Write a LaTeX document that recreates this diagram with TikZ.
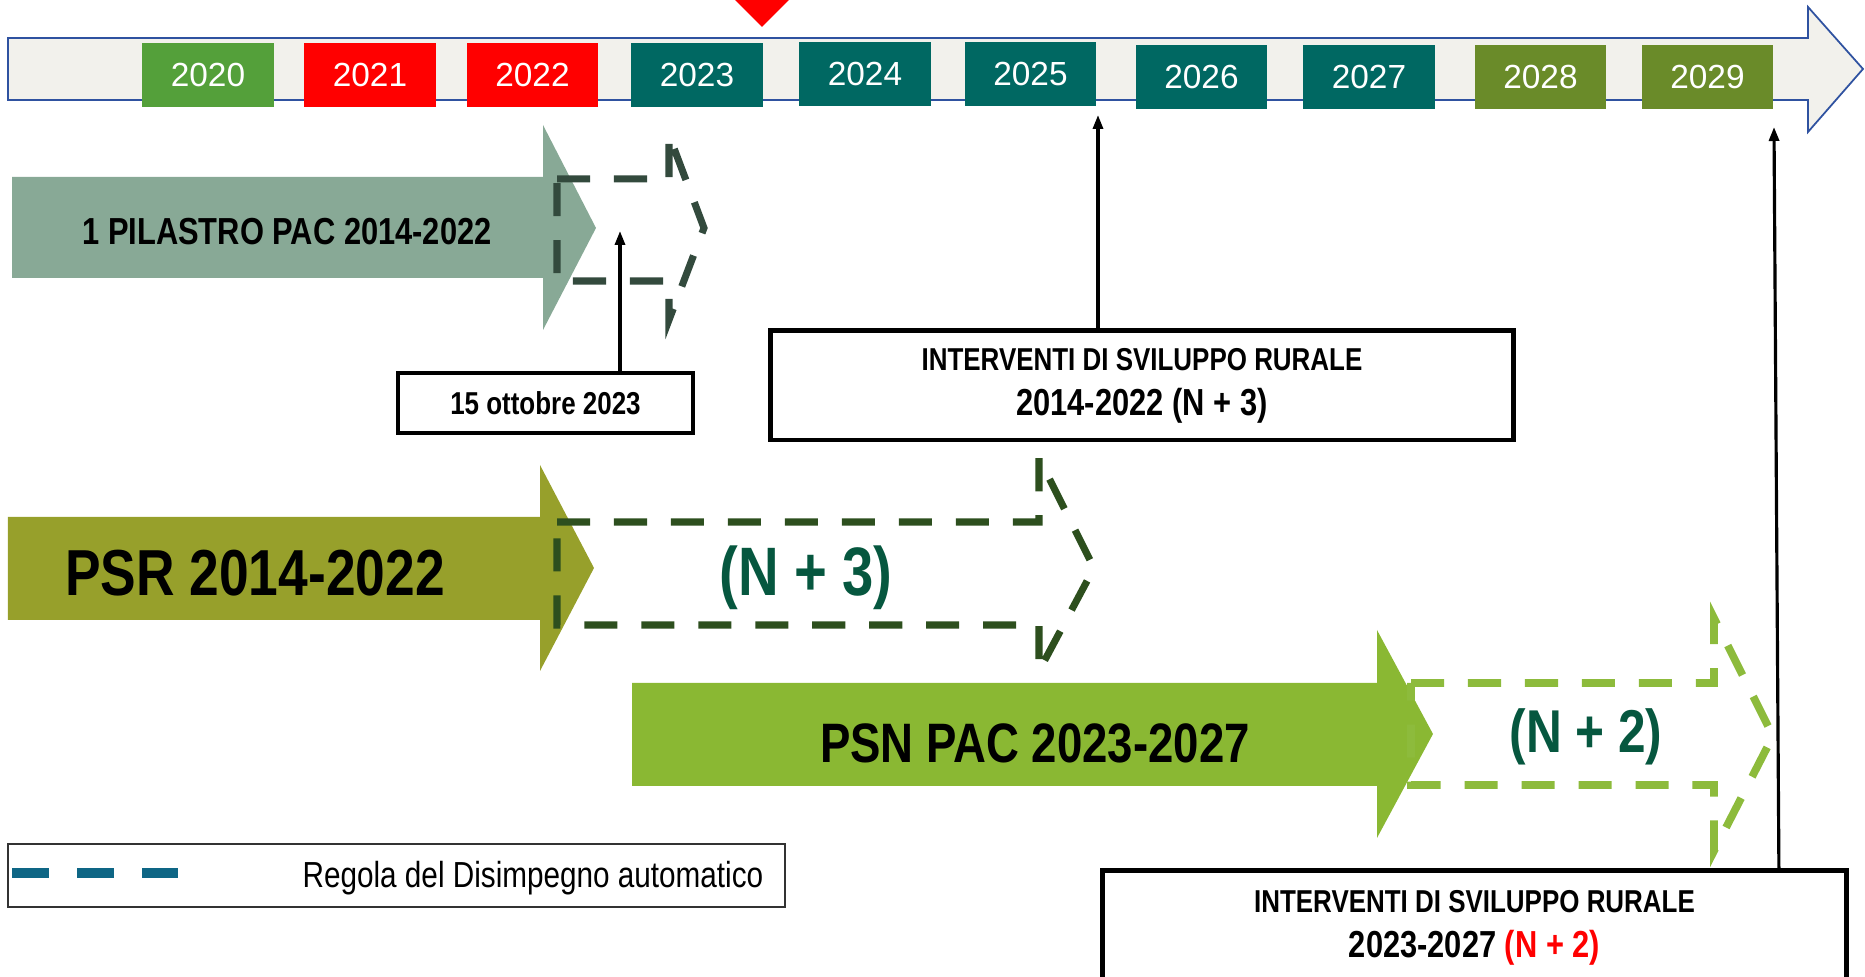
\documentclass[tikz,border=0pt]{standalone}
\usepackage{fontspec}
\setmainfont{Liberation Sans}[FakeStretch=0.82]
\newfontfamily\yearfont{Liberation Sans}
\usetikzlibrary{arrows.meta, positioning, calc}

\definecolor{barfill}{RGB}{242, 241, 236}
\definecolor{barline}{RGB}{47, 82, 160}
\definecolor{yrgreen}{RGB}{84, 160, 58}
\definecolor{yrred}{RGB}{255, 0, 0}
\definecolor{yrteal}{RGB}{0, 104, 98}
\definecolor{yrolive}{RGB}{106, 139, 41}
\definecolor{pacgray}{RGB}{136, 169, 150}
\definecolor{psrolive}{RGB}{151, 160, 43}
\definecolor{psngreen}{RGB}{138, 184, 51}
\definecolor{dashslate}{RGB}{51, 74, 61}
\definecolor{dashdark}{RGB}{45, 79, 30}
\definecolor{dashlight}{RGB}{141, 187, 60}
\definecolor{ntext}{RGB}{6, 87, 63}
\definecolor{legblue}{RGB}{14, 102, 133}

\newcommand{\biggerline}{\fontsize{10.7}{12.8}\selectfont}

\tikzset{
  yearbox/.style={fill=#1, text=white, font=\yearfont\fontsize{9.5}{11}\selectfont,
    minimum width=1.31cm, minimum height=0.64cm, inner sep=0pt},
  notebox/.style={draw, fill=white, line width=1.4pt, align=center, inner sep=0pt,
    font=\bfseries\fontsize{9}{12.8}\selectfont},
  conn/.style={line width=0.9pt, -{Triangle[length=0.14cm, width=0.1cm]}},
  disimp/.style={line width=2pt, dash pattern=on 9.4pt off 6.8pt},
}

\begin{document}
\begin{tikzpicture}[x=0.01cm, y=-0.01cm]
  \useasboundingbox (0,0) rectangle (1865,977);

  % Timeline bar
  \draw[barline, fill=barfill, line width=0.5pt] (8,38) -- (1808,38) -- (1808,7) -- (1863,69)
    -- (1808,132) -- (1808,100) -- (8,100) -- cycle;
  \fill[red] (735,0) -- (789,0) -- (762,27) -- cycle;

  % Years
  \node[yearbox=yrgreen] (y2020) at (208,75) {2020};
  \node[yearbox=yrred] (y2021) at (370,75) {2021};
  \node[yearbox=yrred] (y2022) at (532.5,75) {2022};
  \node[yearbox=yrteal] (y2023) at (697,75) {2023};
  \node[yearbox=yrteal] (y2024) at (865,74) {2024};
  \node[yearbox=yrteal] (y2025) at (1030.5,74) {2025};
  \node[yearbox=yrteal] (y2026) at (1201.5,77) {2026};
  \node[yearbox=yrteal] (y2027) at (1369,77) {2027};
  \node[yearbox=yrolive] (y2028) at (1540.5,77) {2028};
  \node[yearbox=yrolive] (y2029) at (1707.5,77) {2029};

  % 1 pilastro
  \fill[pacgray] (12,177) -- (543,177) -- (543,125) -- (596,228) -- (543,330) -- (543,278) -- (12,278) -- cycle;
  \node[font=\bfseries\fontsize{10.7}{12}\selectfont] (pilastro) at (287,232) {1 PILASTRO PAC 2014-2022};
  \draw[disimp, dashslate] (557,179) -- (669,179) -- (669,135) -- (704,228) -- (669,320) -- (669,281) -- (557,281) -- cycle;

  % PSR 2014-2022
  \fill[psrolive] (8,517) -- (540,517) -- (540,465) -- (594,568) -- (540,671) -- (540,620) -- (8,620) -- cycle;
  \node[font=\bfseries\fontsize{18.5}{20}\selectfont] (psr) at (255,573) {PSR 2014-2022};
  \draw[disimp, dashdark] (557,522) -- (1039,522) -- (1039,458) -- (1094,568) -- (1039,671) -- (1039,625) -- (557,625) -- cycle;
  \node[font=\bfseries\fontsize{19.5}{21}\selectfont, text=ntext] (nthree) at (806,578) {(N + 3)};

  % PSN PAC 2023-2027
  \fill[psngreen] (632,683) -- (1377,683) -- (1377,630) -- (1433,734) -- (1377,838) -- (1377,786) -- (632,786) -- cycle;
  \node[font=\bfseries\fontsize{15.8}{18}\selectfont] (psn) at (1035,743) {PSN PAC 2023-2027};
  \draw[disimp, dashlight, line width=2.2pt] (1411,683) -- (1714,683) -- (1714,618) -- (1773,736) -- (1714,851) -- (1714,785) -- (1411,785) -- cycle;
  \node[font=\bfseries\fontsize{17.2}{19}\selectfont, text=ntext] (ntwo) at (1586,737) {(N + 2)};

  % Boxes and pointers
  \node[notebox, line width=1.1pt, minimum width=2.95cm, minimum height=0.6cm] (ottobre) at (545.5,403) {15 ottobre 2023};
  \coordinate (ottend) at (620,231);
  \draw[conn] (ottobre.north -| ottend) -- (ottend);

  \node[notebox, minimum width=7.42cm, minimum height=1.09cm] (svil1) at (1142,385.5) {INTERVENTI DI SVILUPPO RURALE\\{\biggerline 2014-2022 (N + 3)}};
  \coordinate (t2025) at (1098,115);
  \draw[conn] (svil1.north -| t2025) -- (t2025);

  \node[notebox, minimum width=7.43cm, minimum height=1.14cm] (svil2) at (1474.5,928) {INTERVENTI DI SVILUPPO RURALE\\{\biggerline 2023-2027 {\color{red}(N + 2)}}};
  \coordinate (t2029) at (1774,127);
  \draw[conn] ([xshift=1.4pt]svil2.north -| t2029) -- (t2029);

  % Legend
  \node[draw=black!80, line width=0.6pt, minimum width=7.77cm, minimum height=0.63cm, inner sep=0pt] (legend) at (396.5,875.5) {};
  \draw[legblue, line width=2.6pt, dash pattern=on 10.5pt off 8pt] (12,873) -- (178,873);
  \node[anchor=base east, font=\fontsize{10.3}{12}\selectfont, inner sep=0pt] (legtext) at (764,888) {Regola del Disimpegno automatico};
\end{tikzpicture}
\end{document}
